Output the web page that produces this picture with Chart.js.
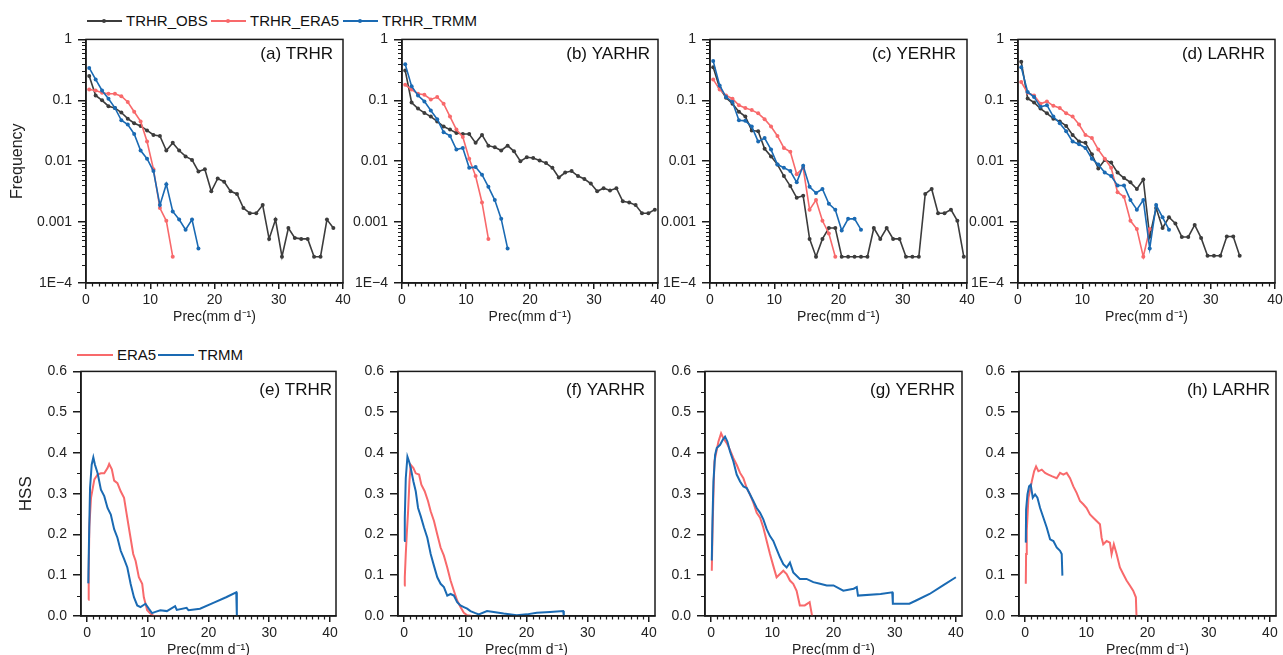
<!DOCTYPE html>
<html>
<head>
<meta charset="utf-8">
<script src="https://cdn.jsdelivr.net/npm/chart.js@4.4.1/dist/chart.umd.min.js"></script>
<style>
  html, body { margin: 0; padding: 0; background: #fff; overflow: hidden; width: 1283px; height: 655px; }
  canvas { position: absolute; }
  .leg { position: absolute; font: 15px "Liberation Sans", Arial, sans-serif; color: #111; white-space: nowrap; line-height: 18px; }
  .ln { position: absolute; height: 2px; }
  .dot { position: absolute; width: 4px; height: 4px; border-radius: 2px; }
</style>
</head>
<body>

<!-- legends -->
<div class="ln" style="left:87px;top:20px;width:35px;background:#3c3c3c"></div>
<div class="dot" style="left:102px;top:19px;background:#3c3c3c"></div>
<div class="leg" style="left:126px;top:12px">TRHR_OBS</div>
<div class="ln" style="left:211px;top:20px;width:35px;background:#f8696b"></div>
<div class="dot" style="left:226px;top:19px;background:#f8696b"></div>
<div class="leg" style="left:250px;top:12px">TRHR_ERA5</div>
<div class="ln" style="left:343px;top:20px;width:35px;background:#1a6ab3"></div>
<div class="dot" style="left:358px;top:19px;background:#1a6ab3"></div>
<div class="leg" style="left:382px;top:12px">TRHR_TRMM</div>

<div class="ln" style="left:77px;top:354px;width:36px;background:#f8696b"></div>
<div class="leg" style="left:117px;top:346px">ERA5</div>
<div class="ln" style="left:158px;top:354px;width:36px;background:#1a6ab3"></div>
<div class="leg" style="left:198px;top:346px">TRMM</div>

<canvas id="pa"></canvas>
<canvas id="pb"></canvas>
<canvas id="pc"></canvas>
<canvas id="pd"></canvas>
<canvas id="pe"></canvas>
<canvas id="pf"></canvas>
<canvas id="pg"></canvas>
<canvas id="ph"></canvas>

<script>
// ---- data ----
// precipitation bin centres (mm/d) for the frequency panels
const precBins = [0.5, 1.5, 2.5, 3.5, 4.5, 5.5, 6.5, 7.5, 8.5, 9.5,
  10.5, 11.5, 12.5, 13.5, 14.5, 15.5, 16.5, 17.5, 18.5, 19.5,
  20.5, 21.5, 22.5, 23.5, 24.5, 25.5, 26.5, 27.5, 28.5, 29.5,
  30.5, 31.5, 32.5, 33.5, 34.5, 35.5, 36.5, 37.5, 38.5, 39.5];

const precTickValues = [0, 10, 20, 30, 40];
const precTickLabels = ['0', '10', '20', '30', '40'];
const freqTickValues = [1e-4, 1e-3, 1e-2, 1e-1, 1];
const freqTickLabels = ['1E\u22124', '0.001', '0.01', '0.1', '1'];
const hssTickValues = [0, 0.1, 0.2, 0.3, 0.4, 0.5, 0.6];
const hssTickLabels = ['0.0', '0.1', '0.2', '0.3', '0.4', '0.5', '0.6'];

// (a) TRHR
const obsA = [0.25, 0.12, 0.1, 0.08, 0.075, 0.063, 0.05, 0.042, 0.038, 0.032, 0.027, 0.026, 0.015, 0.02, 0.015, 0.012, 0.0105, 0.0068, 0.0074, 0.0032, 0.0052, 0.0046, 0.0032, 0.0029, 0.0017, 0.0014, 0.0014, 0.0019, 0.00053, 0.0011, 0.00027, 0.0008, 0.00055, 0.00053, 0.00053, 0.00027, 0.00027, 0.0011, 0.0008];
const era5A = [0.15, 0.145, 0.133, 0.128, 0.128, 0.117, 0.094, 0.065, 0.045, 0.021, 0.0074, 0.0017, 0.00105, 0.00027];
const trmmA = [0.34, 0.22, 0.145, 0.106, 0.075, 0.047, 0.04, 0.028, 0.015, 0.011, 0.0069, 0.0019, 0.0042, 0.0015, 0.0011, 0.00075, 0.0011, 0.00037];
// (b) YARHR
const obsB = [0.31, 0.092, 0.073, 0.062, 0.054, 0.045, 0.037, 0.033, 0.029, 0.028, 0.028, 0.02, 0.027, 0.018, 0.017, 0.015, 0.018, 0.0145, 0.01, 0.0116, 0.0113, 0.0103, 0.0093, 0.0078, 0.0054, 0.0065, 0.0069, 0.0057, 0.0051, 0.0043, 0.0032, 0.0036, 0.0033, 0.0036, 0.0022, 0.0021, 0.0019, 0.0014, 0.0014, 0.0016];
const era5B = [0.18, 0.15, 0.128, 0.123, 0.1035, 0.113, 0.088, 0.054, 0.033, 0.025, 0.011, 0.0057, 0.0021, 0.00053];
const trmmB = [0.39, 0.17, 0.12, 0.096, 0.068, 0.049, 0.03, 0.026, 0.0155, 0.0165, 0.0078, 0.008, 0.006, 0.0038, 0.0023, 0.00113, 0.00037];
// (c) YERHR
const obsC = [0.35, 0.16, 0.11, 0.088, 0.065, 0.054, 0.032, 0.031, 0.016, 0.012, 0.0088, 0.0057, 0.0039, 0.0025, 0.0027, 0.00053, 0.00027, 0.00053, 0.0008, 0.0008, 0.00027, 0.00027, 0.00027, 0.00027, 0.00027, 0.0008, 0.00053, 0.0008, 0.00053, 0.00053, 0.00027, 0.00027, 0.00027, 0.0029, 0.0035, 0.0014, 0.0014, 0.0016, 0.00105, 0.00027];
const era5C = [0.22, 0.15, 0.12, 0.106, 0.083, 0.075, 0.069, 0.061, 0.049, 0.037, 0.026, 0.0165, 0.0143, 0.0061, 0.0078, 0.0016, 0.0023, 0.00105, 0.00065, 0.00027];
const trmmC = [0.44, 0.175, 0.113, 0.094, 0.047, 0.046, 0.037, 0.021, 0.024, 0.0155, 0.0088, 0.0078, 0.0069, 0.0045, 0.0084, 0.0038, 0.003, 0.0035, 0.002, 0.0016, 0.00073, 0.00113, 0.00113, 0.00075];
// (d) LARHR
const obsD = [0.43, 0.107, 0.092, 0.073, 0.061, 0.05, 0.045, 0.038, 0.027, 0.021, 0.02, 0.013, 0.0076, 0.0105, 0.0095, 0.0065, 0.0053, 0.0045, 0.0035, 0.005, 0.00058, 0.0017, 0.0008, 0.0012, 0.00095, 0.00057, 0.00057, 0.0009, 0.00055, 0.00028, 0.00028, 0.00028, 0.00058, 0.00058, 0.00028];
const era5D = [0.2, 0.133, 0.12, 0.088, 0.096, 0.081, 0.075, 0.061, 0.054, 0.04, 0.027, 0.024, 0.0155, 0.011, 0.0078, 0.0031, 0.0026, 0.00105, 0.00077, 0.00027, 0.00077];
const trmmD = [0.35, 0.137, 0.113, 0.078, 0.083, 0.054, 0.042, 0.031, 0.021, 0.019, 0.0165, 0.011, 0.0088, 0.0065, 0.0057, 0.004, 0.004, 0.0023, 0.0016, 0.0023, 0.00037, 0.0019, 0.0012, 0.00075];

// HSS curves: [threshold mm/d, HSS]
const hssEra5E = [[0.2,0.04],[0.27,0.11],[0.38,0.22],[0.65,0.29],[1.2,0.335],[1.74,0.347],[2.28,0.35],[2.83,0.35],[3.37,0.363],[3.64,0.373],[4.08,0.36],[4.46,0.332],[5.0,0.326],[5.54,0.306],[6.09,0.29],[6.52,0.25],[7.07,0.2],[7.6,0.152],[8.0,0.135],[8.53,0.095],[9.08,0.079],[9.35,0.046],[9.9,0.014],[10.43,0.006],[10.98,0.0],[12.07,0.0]];
const hssTrmmE = [[0.2,0.08],[0.33,0.196],[0.49,0.314],[0.76,0.371],[1.03,0.389],[1.3,0.371],[1.74,0.35],[2.28,0.31],[2.83,0.294],[3.37,0.265],[3.91,0.249],[4.46,0.213],[5.0,0.192],[5.54,0.16],[6.09,0.14],[6.63,0.119],[7.17,0.079],[7.72,0.046],[8.26,0.026],[8.8,0.022],[9.62,0.03],[10.16,0.018],[10.7,0.007],[11.25,0.01],[12.07,0.014],[13.15,0.012],[14.5,0.024],[14.78,0.015],[16.4,0.02],[16.7,0.014],[18.6,0.018],[20.8,0.032],[22.9,0.046],[24.57,0.058],[24.67,0.0]];
const hssEra5F = [[0,0.075],[0.11,0.095],[0.27,0.152],[0.43,0.2],[0.65,0.257],[0.87,0.33],[1.08,0.371],[1.52,0.363],[1.9,0.35],[2.44,0.347],[2.82,0.322],[3.36,0.306],[3.9,0.282],[4.34,0.257],[4.88,0.233],[5.42,0.2],[5.96,0.168],[6.5,0.148],[7.05,0.119],[7.59,0.087],[8.13,0.062],[8.67,0.038],[9.21,0.022],[9.76,0.008],[10.3,0.002],[11.1,0.0]];
const hssTrmmF = [[0,0.184],[0.11,0.241],[0.27,0.338],[0.54,0.391],[0.81,0.379],[1.08,0.363],[1.52,0.33],[1.9,0.306],[2.28,0.265],[2.71,0.245],[3.25,0.217],[3.79,0.192],[4.34,0.152],[4.88,0.123],[5.42,0.095],[5.96,0.079],[6.5,0.071],[7.05,0.05],[7.59,0.054],[8.13,0.05],[8.67,0.034],[9.21,0.026],[9.76,0.022],[10.3,0.018],[10.84,0.012],[11.65,0.007],[12.2,0.004],[13.55,0.012],[14.63,0.01],[16.26,0.006],[18.4,0.002],[20.05,0.004],[21.68,0.008],[23.85,0.01],[26.0,0.012],[26.1,0.0]];
const hssEra5G = [[0.11,0.111],[0.22,0.2],[0.38,0.298],[0.54,0.379],[0.82,0.4],[1.2,0.428],[1.63,0.448],[2.0,0.436],[2.55,0.424],[3.1,0.407],[3.64,0.387],[4.18,0.371],[4.73,0.351],[5.27,0.338],[5.82,0.314],[6.36,0.298],[6.9,0.278],[7.45,0.253],[8.0,0.241],[8.53,0.217],[9.08,0.184],[9.62,0.152],[10.16,0.123],[10.7,0.095],[11.25,0.103],[11.8,0.111],[12.34,0.103],[12.88,0.087],[13.42,0.079],[13.97,0.062],[14.5,0.026],[15.3,0.026],[16.1,0.034],[16.5,0.0]];
const hssTrmmG = [[0.11,0.136],[0.22,0.233],[0.38,0.33],[0.65,0.395],[0.92,0.412],[1.47,0.42],[1.9,0.432],[2.28,0.44],[2.66,0.428],[3.1,0.403],[3.64,0.379],[4.18,0.347],[4.73,0.33],[5.27,0.318],[5.82,0.314],[6.36,0.298],[6.9,0.282],[7.45,0.265],[8.0,0.253],[8.53,0.237],[9.08,0.213],[9.62,0.196],[10.16,0.184],[10.7,0.164],[11.25,0.144],[11.8,0.127],[12.34,0.119],[12.88,0.131],[13.42,0.107],[14.5,0.091],[15.6,0.091],[16.7,0.083],[17.8,0.079],[18.9,0.075],[20.0,0.075],[21.6,0.062],[23.3,0.067],[23.8,0.071],[24.0,0.05],[27.7,0.054],[29.6,0.058],[29.7,0.03],[32.4,0.03],[33.5,0.038],[35.7,0.054],[37.9,0.075],[40.0,0.095]];
const hssEra5H = [[0.11,0.079],[0.16,0.152],[0.27,0.209],[0.54,0.29],[0.82,0.31],[1.09,0.33],[1.47,0.355],[1.79,0.367],[2.17,0.355],[2.72,0.359],[3.26,0.351],[3.8,0.347],[4.35,0.343],[5.16,0.338],[5.71,0.351],[6.25,0.347],[6.79,0.351],[7.34,0.338],[7.88,0.318],[8.42,0.302],[8.97,0.282],[9.51,0.274],[10.05,0.265],[10.6,0.249],[11.14,0.241],[11.68,0.233],[12.23,0.225],[12.5,0.192],[12.77,0.176],[13.32,0.184],[13.86,0.18],[14.13,0.152],[14.5,0.176],[14.95,0.152],[15.49,0.119],[16.03,0.103],[16.58,0.087],[17.12,0.075],[17.66,0.062],[18.1,0.046],[18.2,0.0]];
const hssTrmmH = [[0.11,0.18],[0.16,0.261],[0.38,0.298],[0.65,0.318],[0.92,0.322],[1.25,0.29],[1.63,0.298],[2.01,0.29],[2.45,0.265],[2.99,0.241],[3.53,0.217],[4.08,0.188],[4.62,0.184],[5.16,0.168],[5.71,0.16],[5.98,0.152],[6.09,0.099]];

// ---- styling / layout ----
const FONT = '"Liberation Sans", Arial, sans-serif';
Chart.defaults.font.family = FONT;
Chart.defaults.color = '#222';
const C_OBS = '#3c3c3c', C_ERA5 = '#f8696b', C_TRMM = '#1a6ab3', C_AX = '#1a1a1a';
const YW = 78, PT = 12, PR = 12, XH = 45;

// minor tick positions (axis decoration only)
const freqMinor = [];
for (let e = -4; e < 0; e++) for (let m = 2; m <= 9; m++) freqMinor.push(m * Math.pow(10, e));
const precMinor = [];
for (let v = 1; v < 40; v++) if (v % 10) precMinor.push(v);
const hssMinor = [0.05, 0.15, 0.25, 0.35, 0.45, 0.55];

const framePlugin = {
  id: 'frame',
  afterDraw(chart) {
    const {ctx, chartArea: a} = chart;
    ctx.save();
    ctx.strokeStyle = C_AX;
    ctx.lineWidth = 1.5;
    ctx.strokeRect(a.left, a.top, a.right - a.left, a.bottom - a.top);
    ctx.restore();
  }
};

const minorTicks = {
  id: 'minorTicks',
  afterDraw(chart, args, o) {
    const {ctx, chartArea: a, scales: {x, y}} = chart;
    ctx.save();
    ctx.strokeStyle = C_AX;
    ctx.lineWidth = 1.2;
    ctx.beginPath();
    (o.x || []).forEach(v => {
      const px = Math.round(x.getPixelForValue(v)) + 0.5;
      ctx.moveTo(px, a.bottom); ctx.lineTo(px, a.bottom + 3.5);
    });
    (o.y || []).forEach(v => {
      const py = Math.round(y.getPixelForValue(v)) + 0.5;
      ctx.moveTo(a.left, py); ctx.lineTo(a.left - 4, py);
    });
    ctx.stroke();
    ctx.restore();
  }
};

const panelLabel = {
  id: 'panelLabel',
  afterDraw(chart, args, o) {
    const {ctx, chartArea: a} = chart;
    ctx.save();
    ctx.font = '17px ' + FONT;
    ctx.fillStyle = '#111';
    ctx.textAlign = 'right';
    ctx.textBaseline = 'middle';
    ctx.fillText(o.text, a.right - o.dx, a.top + o.dy);
    ctx.restore();
  }
};

function xAxis(min, max) {
  return {
    type: 'linear', min: min, max: max,
    afterBuildTicks: s => { s.ticks = precTickValues.map(v => ({value: v})); },
    afterFit: s => { s.height = XH; },
    ticks: {autoSkip: false, maxRotation: 0, padding: 3, font: {size: 14}, color: '#222',
      callback: (v, i) => precTickLabels[i]},
    grid: {display: true, drawOnChartArea: false, tickLength: 6, color: C_AX, lineWidth: 1.5},
    border: {display: true, color: C_AX, width: 1.5},
    title: {display: true, text: 'Prec(mm d\u207B\u00B9)', font: {size: 14}, color: '#222',
      padding: {top: 0, bottom: 2}}
  };
}

function yAxis(kind, titleText) {
  const isLog = kind === 'freq';
  const vals = isLog ? freqTickValues : hssTickValues;
  const labs = isLog ? freqTickLabels : hssTickLabels;
  const ax = {
    type: isLog ? 'logarithmic' : 'linear',
    min: isLog ? 1e-4 : 0, max: isLog ? 1 : 0.6,
    afterBuildTicks: s => { s.ticks = vals.map(v => ({value: v})); },
    afterFit: s => { s.width = YW; },
    ticks: {autoSkip: false, padding: 6, font: {size: 14}, color: '#222',
      callback: (v, i) => labs[i]},
    grid: {display: true, drawOnChartArea: false, tickLength: 8, color: C_AX, lineWidth: 1.5},
    border: {display: true, color: C_AX, width: 1.5},
    title: {display: false}
  };
  if (titleText) {
    ax.title = isLog
      ? {display: true, text: titleText, font: {size: 16}, color: '#222', padding: {top: 0, bottom: 0}}
      : {display: true, text: titleText, font: {size: 17}, color: '#222', padding: {top: 13, bottom: 0}};
  }
  return ax;
}

function place(canvas, l, r, t, b) {
  canvas.width = (r - l) + YW + PR;
  canvas.height = (b - t) + PT + XH;
  canvas.style.left = (l - YW) + 'px';
  canvas.style.top = (t - PT) + 'px';
}

function freqSeries(label, vals, color, order) {
  return {
    label: label,
    data: vals.map((v, i) => ({x: precBins[i], y: v})),
    borderColor: color, backgroundColor: color,
    borderWidth: 1.6, pointRadius: 2, pointHoverRadius: 2, pointBorderWidth: 0,
    pointBackgroundColor: color, tension: 0, order: order
  };
}

function hssSeries(label, pairs, color, order) {
  return {
    label: label,
    data: pairs.map(p => ({x: p[0], y: p[1]})),
    borderColor: color, backgroundColor: color,
    borderWidth: 2, pointRadius: 0, tension: 0, order: order
  };
}

function freqPanel(id, l, r, title, dx, obs, era5, trmm, yTitle) {
  const cv = document.getElementById(id);
  place(cv, l, r, 37, 283);
  new Chart(cv, {
    type: 'line',
    data: {datasets: [
      freqSeries('TRHR_OBS', obs, C_OBS, 2),
      freqSeries('TRHR_ERA5', era5, C_ERA5, 1),
      freqSeries('TRHR_TRMM', trmm, C_TRMM, 0)
    ]},
    options: {
      responsive: false, animation: false, devicePixelRatio: 1,
      layout: {padding: {top: PT, right: PR, left: 0, bottom: 0}},
      scales: {x: xAxis(0, 40), y: yAxis('freq', yTitle)},
      plugins: {
        legend: {display: false}, tooltip: {enabled: false},
        minorTicks: {x: precMinor, y: freqMinor},
        panelLabel: {text: title, dx: dx, dy: 15}
      }
    },
    plugins: [framePlugin, minorTicks, panelLabel]
  });
}

function hssPanel(id, l, r, title, dx, era5, trmm, yTitle) {
  const cv = document.getElementById(id);
  place(cv, l, r, 369, 616);
  new Chart(cv, {
    type: 'line',
    data: {datasets: [
      hssSeries('ERA5', era5, C_ERA5, 1),
      hssSeries('TRMM', trmm, C_TRMM, 0)
    ]},
    options: {
      responsive: false, animation: false, devicePixelRatio: 1,
      layout: {padding: {top: PT, right: PR, left: 0, bottom: 0}},
      scales: {x: xAxis(-1, 41), y: yAxis('hss', yTitle)},
      plugins: {
        legend: {display: false}, tooltip: {enabled: false},
        minorTicks: {x: precMinor, y: hssMinor},
        panelLabel: {text: title, dx: dx, dy: 19}
      }
    },
    plugins: [framePlugin, minorTicks, panelLabel]
  });
}

freqPanel('pa', 86, 343, '(a) TRHR', 10, obsA, era5A, trmmA, 'Frequency');
freqPanel('pb', 402, 658, '(b) YARHR', 8, obsB, era5B, trmmB);
freqPanel('pc', 710, 967, '(c) YERHR', 11, obsC, era5C, trmmC);
freqPanel('pd', 1018, 1275, '(d) LARHR', 10, obsD, era5D, trmmD);

hssPanel('pe', 81, 336, '(e) TRHR', 4, hssEra5E, hssTrmmE, 'HSS');
hssPanel('pf', 398, 655, '(f) YARHR', 10, hssEra5F, hssTrmmF);
hssPanel('pg', 705, 962, '(g) YERHR', 7, hssEra5G, hssTrmmG);
hssPanel('ph', 1019, 1276, '(h) LARHR', 6, hssEra5H, hssTrmmH);
</script>
</body>
</html>
